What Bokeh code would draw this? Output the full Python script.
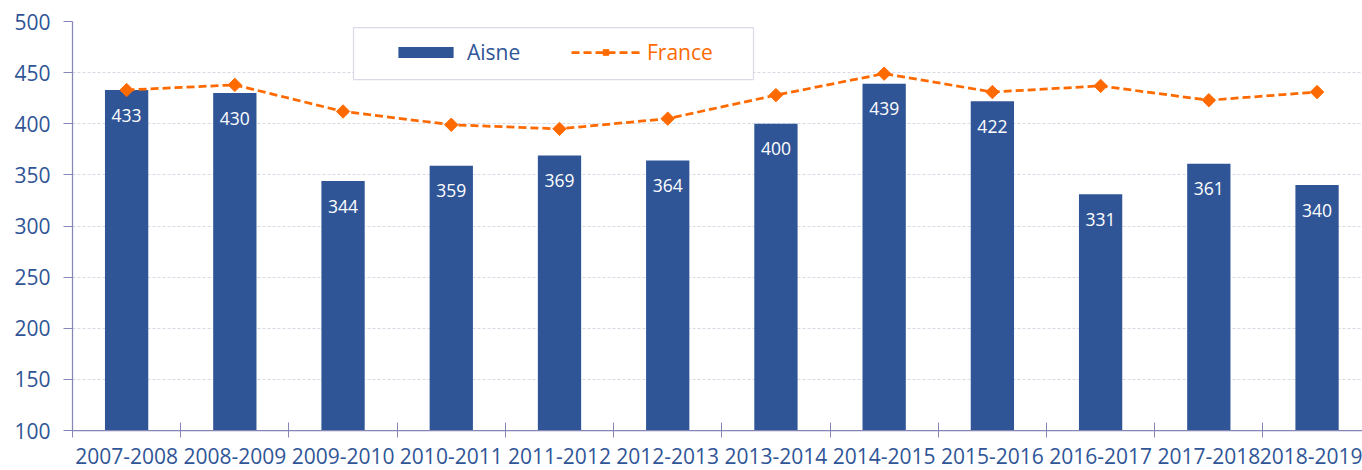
from bokeh.plotting import figure
from bokeh.models import (ColumnDataSource, Range1d, FixedTicker, Legend, LegendItem,
                          BoxAnnotation)
from bokeh.core.properties import value
from bokeh.embed import file_html
from bokeh.resources import INLINE

seasons = ["2007-2008", "2008-2009", "2009-2010", "2010-2011", "2011-2012", "2012-2013",
           "2013-2014", "2014-2015", "2015-2016", "2016-2017", "2017-2018", "2018-2019"]
aisne = [433, 430, 344, 359, 369, 364, 400, 439, 422, 331, 361, 340]
france = [433, 438, 412, 399, 395, 405, 428, 449, 431, 437, 423, 431]
y_ticks = [100, 150, 200, 250, 300, 350, 400, 450, 500]

BLUE = "#2F5597"
ORANGE = "#FF6A00"
AXIS = "#8585B8"
FONT = "Open Sans"

n = len(seasons)
idx = list(range(n))
src = ColumnDataSource(dict(x=idx, aisne=aisne, france=france,
                            lbl=[str(v) for v in aisne]))

p = figure(width=1362, height=470, output_backend="svg", toolbar_location=None,
           x_range=Range1d(-0.5, 11.42), y_range=Range1d(100, 500),
           min_border_left=72, min_border_right=0, min_border_top=21, min_border_bottom=40)
p.outline_line_color = None
p.background_fill_color = "white"

bars = p.vbar(x="x", top="aisne", bottom=100, width=0.4, source=src,
              fill_color=BLUE, line_color=None)
p.text(x="x", y="aisne", text="lbl", source=src, y_offset=25,
       text_align="center", text_baseline="middle", text_color="white",
       text_font=value(FONT), text_font_size="17.5px")
line_r = p.line(x="x", y="france", source=src, line_color=ORANGE, line_width=2.75,
                line_dash="8 4")
scat_r = p.scatter(x="x", y="france", source=src, marker="square", angle=0.7854,
                   size=9.5, fill_color=ORANGE, line_color=ORANGE)

# axes
p.xaxis.ticker = FixedTicker(ticks=idx, minor_ticks=[i - 0.5 for i in range(n + 1)])
p.xaxis.major_label_overrides = {i: s for i, s in zip(idx, seasons)}
p.xaxis.major_tick_line_color = None
p.xaxis.major_tick_out = 0
p.xaxis.major_tick_in = 0
p.xaxis.minor_tick_in = 8
p.xaxis.minor_tick_out = 7
p.xaxis.minor_tick_line_color = AXIS
p.xaxis.major_label_standoff = 10

p.yaxis.ticker = FixedTicker(ticks=y_ticks)
p.yaxis.major_tick_in = 0
p.yaxis.major_tick_out = 9
p.yaxis.minor_tick_line_color = None
p.yaxis.major_tick_line_color = AXIS
p.yaxis.major_label_standoff = 13

for ax in (p.xaxis, p.yaxis):
    ax.axis_line_color = AXIS
    ax.axis_line_width = 1.25
    ax.major_label_text_font = FONT
    ax.major_label_text_font_size = "21px"
    ax.major_label_text_color = BLUE

p.xgrid.grid_line_color = None
p.ygrid.ticker = FixedTicker(ticks=y_ticks[1:])
p.ygrid.grid_line_color = "#D9D9E6"
p.ygrid.grid_line_dash = "3 2"
p.ygrid.grid_line_width = 1

# legend box
box = BoxAnnotation(left=281, right=681, bottom=351, top=403,
                    left_units="screen", right_units="screen",
                    top_units="screen", bottom_units="screen",
                    fill_color="white", fill_alpha=1.0,
                    line_color=AXIS, line_width=1.25)
p.add_layout(box)

common = dict(orientation="horizontal", padding=0, margin=0, border_line_alpha=0,
              background_fill_alpha=0, glyph_width=69, glyph_height=14,
              label_standoff=7, label_text_font=FONT, label_text_font_size="21px",
              spacing=0)
leg1 = Legend(items=[LegendItem(label="Aisne", renderers=[bars])],
              location=(319, 364), label_text_color=BLUE, **common)
leg2 = Legend(items=[LegendItem(label="France", renderers=[line_r, scat_r])],
              location=(499, 364), label_text_color=ORANGE, **common)
p.add_layout(leg1)
p.add_layout(leg2)

open("out.html", "w").write(file_html(p, INLINE))
